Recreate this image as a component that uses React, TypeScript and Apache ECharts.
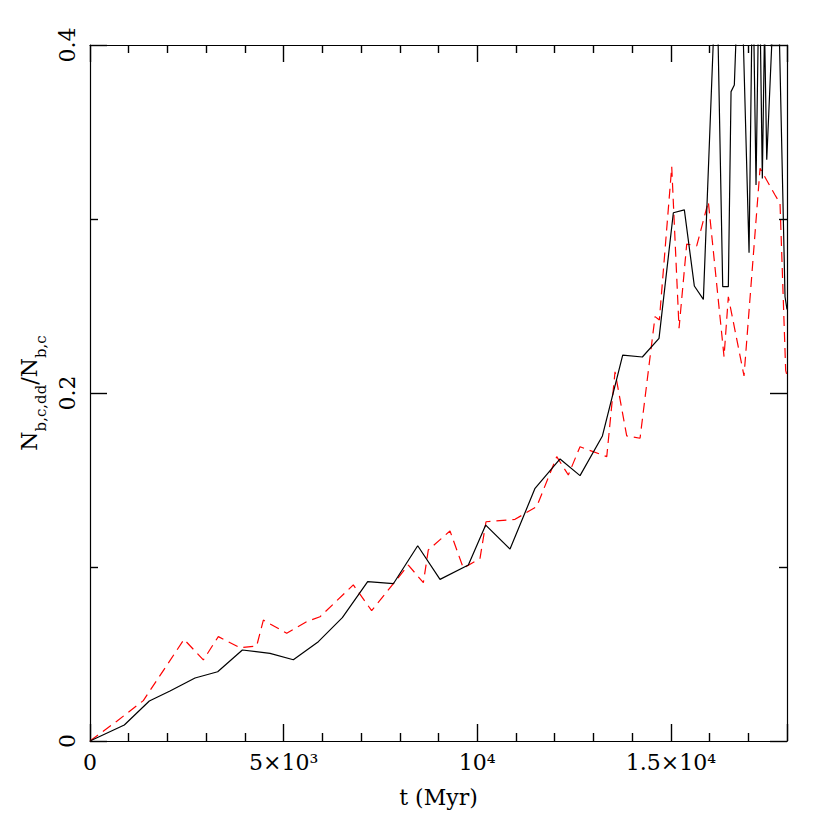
import React, { useEffect, useRef } from "react";
import * as echarts from "echarts";

// Black solid curve: time (Myr) and ratio
const T_BLACK = [
  0, 886, 1532, 2066, 2712, 3297, 3935, 4649, 5251, 5897, 6517, 7171, 7834,
  8463, 9039, 9771, 10219, 10847, 11493, 12139, 12655, 13233, 13757, 14265,
  14695, 15065, 15349, 15607, 15840, 16180, 16340, 16485, 16555, 16640, 16790,
  17020, 17115, 17200, 17285, 17363, 17420, 17477, 17740, 17949, 18000,
];
const V_BLACK = [
  0, 0.0092, 0.023, 0.0287, 0.0362, 0.0398, 0.0523, 0.0504, 0.0467, 0.0571,
  0.0709, 0.0916, 0.0904, 0.1122, 0.0929, 0.1011, 0.1241, 0.1103, 0.1452,
  0.1621, 0.1525, 0.1753, 0.2218, 0.2207, 0.2314, 0.3036, 0.3052, 0.2615,
  0.2538, 0.45, 0.2611, 0.2611, 0.3732, 0.377, 0.47, 0.2806, 0.45, 0.3195,
  0.45, 0.3233, 0.41, 0.334, 0.469, 0.2553, 0.248,
];

// Red dashed curve
const T_RED = [
  0, 700, 1377, 2428, 2927, 3314, 3874, 4304, 4477, 5080, 5596, 5940, 6800,
  7274, 8221, 8609, 8737, 9297, 9642, 10072, 10227, 10976, 11536, 12053, 12353,
  12655, 13345, 13559, 13861, 14205, 14592, 14704, 15023, 15212, 15410, 15668,
  15968, 16374, 16485, 16890, 17304, 17691, 17820, 17966, 18000,
];
const V_RED = [
  0, 0.0115, 0.0232, 0.0584, 0.0466, 0.06, 0.0536, 0.0546, 0.0695, 0.0619,
  0.0686, 0.0714, 0.0897, 0.0749, 0.1011, 0.091, 0.1098, 0.1207, 0.0993, 0.105,
  0.126, 0.1274, 0.1347, 0.1634, 0.1529, 0.1691, 0.1634, 0.2122, 0.1753, 0.174,
  0.2439, 0.242, 0.33, 0.2372, 0.2856, 0.2845, 0.31, 0.2209, 0.2553, 0.2098,
  0.3291, 0.3138, 0.309, 0.213, 0.21,
];

const X_TICKS = [0, 5000, 10000, 15000];
const X_LABELS = ["0", "5×10³", "10⁴", "1.5×10⁴"];
const Y_TICKS = [0, 0.2, 0.4];
const Y_LABELS = ["0", "0.2", "0.4"];

const FONT = "DejaVu Serif";

export default function App() {
  const ref = useRef<HTMLDivElement>(null);
  useEffect(() => {
    if (!ref.current) return;
    const chart = echarts.init(ref.current, undefined, { renderer: "svg" });
    const xLabel = (v: number) => {
      const i = X_TICKS.indexOf(v);
      return i >= 0 ? X_LABELS[i] : "";
    };
    const yLabel = (v: number) => {
      const i = Y_TICKS.findIndex((t) => Math.abs(t - v) < 1e-9);
      return i >= 0 ? Y_LABELS[i] : "";
    };
    const tickCommon = {
      axisLine: { show: true, onZero: false, lineStyle: { color: "#000", width: 1.2 } },
      axisTick: { show: true, inside: true, length: 17, lineStyle: { color: "#000", width: 1.4 } },
      splitLine: { show: false },
      minorSplitLine: { show: false },
    };
    const minor = (n: number) => ({
      show: true,
      splitNumber: n,
      length: 8,
      lineStyle: { color: "#000", width: 1.4 },
    });
    chart.setOption({
      animation: false,
      backgroundColor: "#fff",
      grid: { left: 90, right: 43, top: 45, bottom: 89, containLabel: false },
      xAxis: [
        {
          type: "value",
          min: 0,
          max: 18000,
          interval: 5000,
          position: "bottom",
          ...tickCommon,
          minorTick: minor(5),
          axisLabel: {
            show: true,
            formatter: xLabel,
            fontFamily: FONT,
            fontSize: 22,
            color: "#000",
            margin: 10,
            showMaxLabel: false,
          },
          name: "t (Myr)",
          nameLocation: "middle",
          nameGap: 45,
          nameTextStyle: { fontFamily: FONT, fontSize: 22, color: "#000" },
        },
        {
          type: "value",
          min: 0,
          max: 18000,
          interval: 5000,
          position: "top",
          ...tickCommon,
          minorTick: minor(5),
          axisLabel: { show: false },
        },
      ],
      yAxis: [
        {
          type: "value",
          min: 0,
          max: 0.4,
          interval: 0.2,
          position: "left",
          ...tickCommon,
          minorTick: minor(2),
          axisLabel: {
            show: true,
            rotate: 90,
            formatter: yLabel,
            fontFamily: FONT,
            fontSize: 22,
            color: "#000",
            margin: 12,
          },
          name: "{n|N}{s|b,c,dd}{n|/N}{s|b,c}",
          nameLocation: "middle",
          nameRotate: 90,
          nameGap: 42,
          nameTextStyle: {
            color: "#000",
            rich: {
              n: { fontFamily: FONT, fontSize: 22, lineHeight: 30, verticalAlign: "top", color: "#000" },
              s: { fontFamily: FONT, fontSize: 15, lineHeight: 10, verticalAlign: "bottom", color: "#000" },
            },
          },
        },
        {
          type: "value",
          min: 0,
          max: 0.4,
          interval: 0.2,
          position: "right",
          ...tickCommon,
          minorTick: minor(2),
          axisLabel: { show: false },
        },
      ],
      series: [
        {
          type: "line",
          xAxisIndex: 0,
          yAxisIndex: 0,
          data: T_BLACK.map((t, i) => [t, V_BLACK[i]]),
          showSymbol: false,
          symbol: "none",
          clip: true,
          lineStyle: { color: "#000", width: 1.2, type: "solid" },
          z: 3,
        },
        {
          type: "line",
          xAxisIndex: 0,
          yAxisIndex: 0,
          data: T_RED.map((t, i) => [t, V_RED[i]]),
          showSymbol: false,
          symbol: "none",
          clip: true,
          lineStyle: { color: "#ff0000", width: 1.2, type: [10, 6] },
          z: 2,
        },
      ],
    });
    return () => chart.dispose();
  }, []);
  return (
    <div
      ref={ref}
      style={{ position: "fixed", left: 0, top: 0, width: 830, height: 830, background: "#fff" }}
    />
  );
}
